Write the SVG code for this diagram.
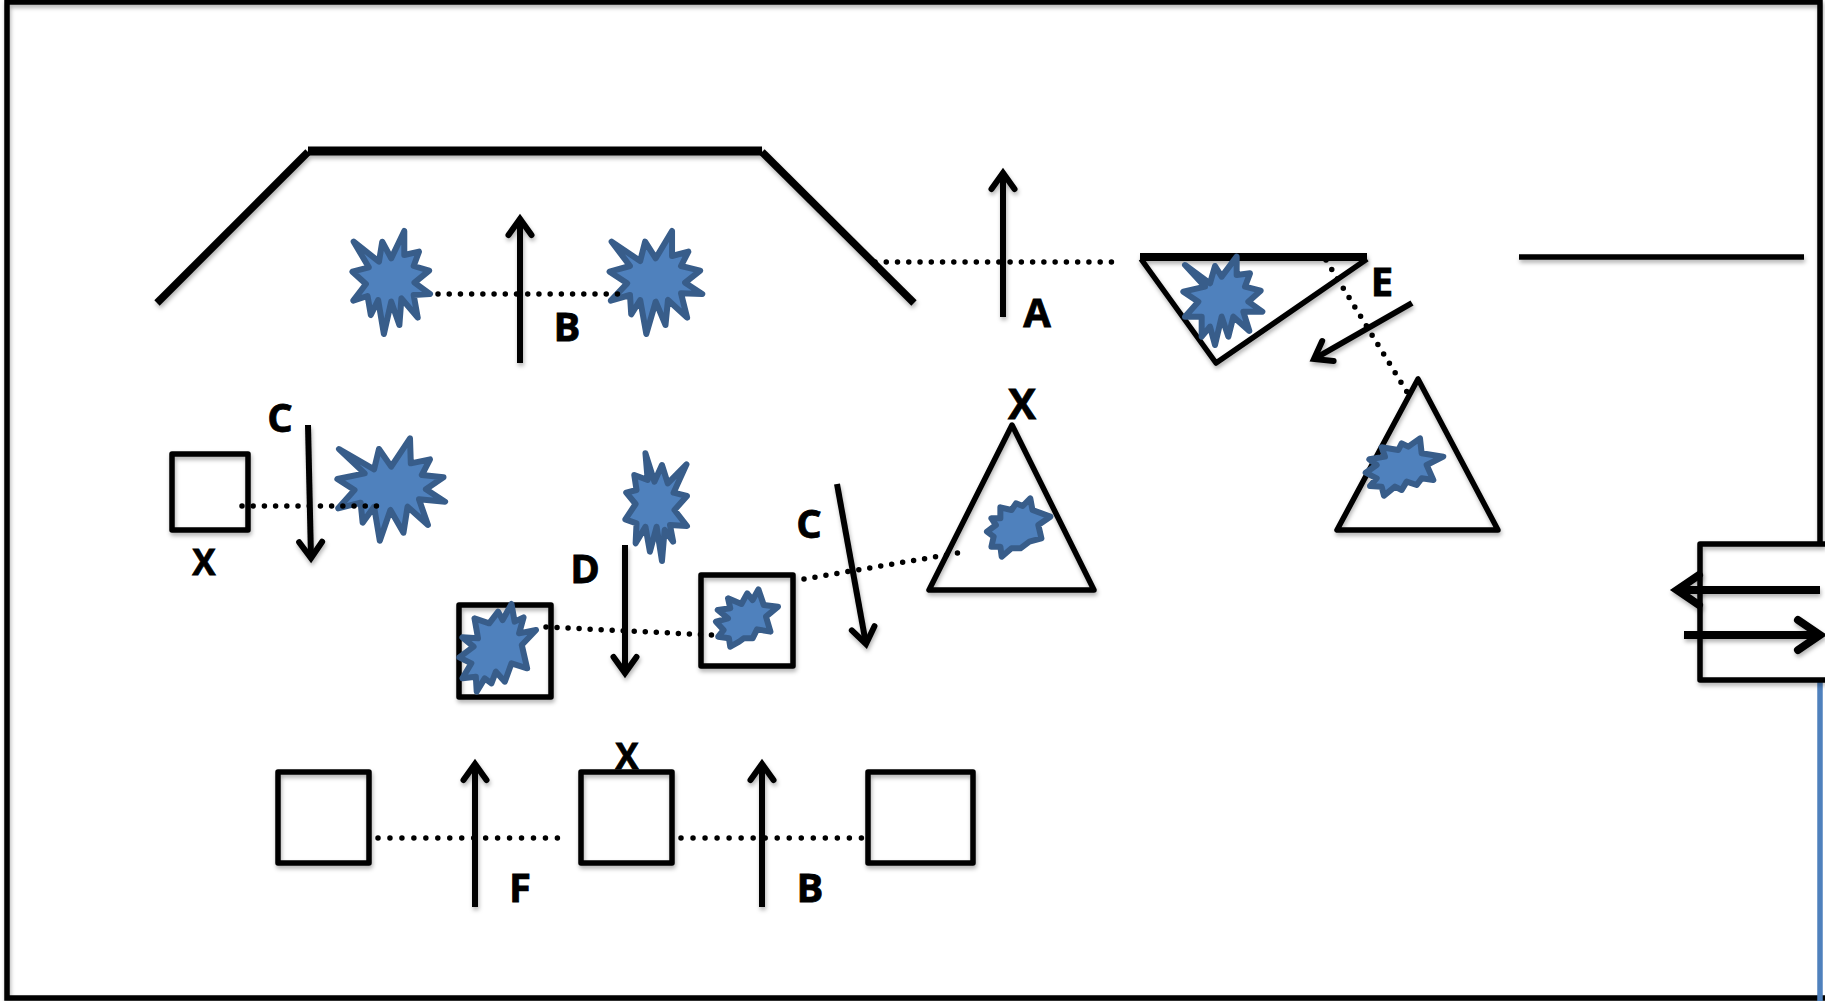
<svg xmlns="http://www.w3.org/2000/svg" width="1825" height="1001" viewBox="0 0 1825 1001">
<style>
.sh{filter:url(#sh)}
.box{fill:none;stroke:#000;stroke-width:5.500;stroke-linejoin:round}
.wall{fill:none;stroke:#000;stroke-width:7.500}
.thick{fill:none;stroke:#000;stroke-width:9}
.arrow{fill:none;stroke:#000;stroke-width:6;marker-end:url(#head)}
.big{fill:none;stroke:#000;stroke-width:8;marker-end:url(#headBig)}
.dot{fill:none;stroke:#000;stroke-width:5.500;stroke-linecap:round;stroke-dasharray:0 1}
.star{fill:#4f81bd;stroke:#385d8a;stroke-width:6;stroke-linejoin:round;vector-effect:non-scaling-stroke}
.lb{font-family:"Open Sans","Noto Sans",sans-serif;font-weight:700;font-size:40px;text-anchor:middle;fill:#000;stroke:#000;stroke-width:.8}
</style>
<defs>
<filter id="sh" filterUnits="userSpaceOnUse" x="0" y="0" width="1825" height="1001"><feDropShadow dx="1" dy="3" stdDeviation="2" flood-color="#000" flood-opacity=".3"/></filter>
<marker id="head" markerUnits="userSpaceOnUse" markerWidth="40" markerHeight="40" refX="30" refY="20" orient="auto" overflow="visible"><path d="M14 8.500L30 20L14 31.500" fill="none" stroke="#000" stroke-width="6" stroke-linecap="round"/></marker>
<marker id="headBig" markerUnits="userSpaceOnUse" markerWidth="60" markerHeight="60" refX="30" refY="30" orient="auto" overflow="visible"><path d="M8 15L30 30L8 45" fill="none" stroke="#000" stroke-width="8" stroke-linecap="round"/></marker>
</defs>
<rect width="1825" height="1001" fill="#fff"/>

<g id="frame">
<path class="wall sh" d="M1820 542V2H7V998H1825" style="stroke-width:5.500"/>
<path d="M1820 680V1001" fill="none" stroke="#4f81bd" stroke-width="5.500"/>
</g>

<g id="wall-top" class="sh">
<path class="wall" d="M157 303L308 152"/>
<path class="thick" d="M308 151H762"/>
<path class="wall" d="M762 152L914 303"/>
</g>
<g id="wall-right"><path class="box sh" d="M1519 257H1804"/></g>

<g id="labels">
<text class="lb" x="1037" y="327">A</text>
<text class="lb" x="567" y="341">B</text>
<text class="lb" x="280" y="432">C</text>
<text class="lb" x="204" y="575" style="font-size:35px">X</text>
<text class="lb" x="1022" y="419" style="font-size:42px">X</text>
<text class="lb" x="585" y="583">D</text>
<text class="lb" x="809" y="538">C</text>
<text class="lb" x="1382" y="296">E</text>
<text class="lb" x="627" y="769" style="font-size:35px">X</text>
<text class="lb" x="520" y="902">F</text>
<text class="lb" x="810" y="902">B</text>
</g>

<g id="node-square-left"><rect class="box sh" x="172" y="454" width="76" height="76"/></g>
<g id="node-square-e"><rect class="box sh" x="459" y="605" width="92" height="92"/></g>
<g id="node-square-f"><rect class="box sh" x="701" y="575" width="92" height="91"/></g>
<g id="node-square-b1"><rect class="box sh" x="278" y="772" width="91" height="91"/></g>
<g id="node-square-b2"><rect class="box sh" x="581" y="772" width="91" height="91"/></g>
<g id="node-square-b3"><rect class="box sh" x="868" y="772" width="105" height="91"/></g>

<g id="node-triangle-x"><path class="box sh" d="M1012 425L929 590H1094Z"/></g>
<g id="node-triangle-low"><path class="box sh" d="M1418 379L1337 530H1498Z"/></g>
<g id="node-triangle-inv">
<path class="box sh" d="M1141 259L1216 363L1367 259"/>
<path class="thick sh" d="M1140 257H1367" style="stroke-width:8"/>
</g>

<g id="node-port">
<path class="box sh" d="M1825 544H1700V680H1825"/>
</g>

<g id="stars-a" transform="translate(130 130) scale(.40816 .33333)">
<path id="star-1" class="star" d="M548 335L610 395L618 335L640 385L672 303L672 375L708 365L695 408L733 422L697 458L735 492L695 495L705 563L665 505L660 585L640 515L622 612L608 510L590 555L582 498L547 512L578 462L545 425L585 412Z"/>
<path id="star-2" class="star" d="M1180 335L1250 393L1262 335L1288 385L1328 303L1328 378L1368 365L1350 408L1397 422L1360 458L1402 492L1350 490L1365 563L1318 510L1312 585L1288 515L1265 612L1250 510L1228 553L1225 495L1178 512L1218 460L1175 425L1225 408Z"/>
<path id="star-3" class="star" d="M512 957L598 1018L610 957L640 1010L686 925L688 1000L735 988L715 1035L768 1042L725 1078L772 1115L708 1108L730 1185L680 1130L670 1208L638 1140L612 1232L598 1130L570 1178L565 1118L510 1135L550 1080L508 1047L575 1030Z"/>
</g>
<g id="stars-b" transform="translate(420 430) scale(.44643 .33333)">
<path id="star-4" class="star" d="M505 70L525 155L542 105L555 160L597 103L568 188L598 198L570 240L598 288L560 285L567 335L548 300L542 393L530 290L515 365L505 290L483 340L485 280L460 268L483 222L462 188L485 180L480 135L510 150Z"/>
<path id="star-5" class="star" d="M205 522L212 575L232 562L222 610L260 600L228 645L240 715L205 700L190 755L170 725L160 760L145 745L127 785L125 740L95 745L115 700L88 682L120 650L95 622L130 625L122 565L155 580L175 545L185 570Z"/>
<path id="star-6" class="star" d="M758 478L770 525L802 530L775 560L785 605L755 598L745 625L725 625L715 635L695 650L692 625L668 620L680 600L663 575L690 565L667 540L695 535L690 505L720 522L733 490L745 510Z"/>
<path id="star-7" class="star" d="M1367 205L1372 240L1412 260L1385 285L1392 325L1365 335L1345 355L1325 355L1303 380L1300 350L1280 350L1285 320L1270 305L1290 285L1280 265L1300 265L1300 232L1325 240L1335 220L1350 228Z"/>
</g>
<g id="stars-c" transform="translate(1100 230) scale(.33333)">
<path id="star-8" class="star" d="M255 105L330 160L345 108L365 140L410 80L410 135L450 130L435 170L482 182L445 215L487 245L430 245L448 303L400 260L385 320L365 260L345 345L330 290L305 320L305 260L255 260L295 215L250 185L315 170Z"/>
<path id="star-9" class="star" d="M960 625L965 670L1030 680L980 705L1000 750L965 745L950 765L920 755L905 780L885 770L852 797L845 770L810 768L830 745L797 728L830 705L808 688L855 680L845 652L895 660L905 640L925 650Z"/>
</g>

<g id="connectors">
<g id="dotted">
<path class="dot" pathLength="16.05" d="M438 294H618"/>
<path class="dot" pathLength="21.05" d="M875 262H1112"/>
<path class="dot" pathLength="12.05" d="M242 506H377"/>
<path class="dot" pathLength="15.05" d="M546 627L712 635"/>
<path class="dot" pathLength="14.05" d="M804 579L958 553"/>
<path class="dot" pathLength="14.05" d="M1326 260L1407 392"/>
<path class="dot" pathLength="15.05" d="M378 838H558"/>
<path class="dot" pathLength="15.05" d="M681 838H862"/>
</g>
<g id="arrows" class="sh">
<path class="arrow" d="M520 363V219"/>
<path class="arrow" d="M1003 317V173"/>
<path class="arrow" d="M308 425L311 558"/>
<path class="arrow" d="M625 545V673"/>
<path class="arrow" d="M837 484L866 644"/>
<path class="arrow" d="M1412 303L1314 359"/>
<path class="arrow" d="M475 907V764"/>
<path class="arrow" d="M762 907V764"/>
<path class="big" d="M1820 590H1677"/>
<path class="big" d="M1684 635H1820"/>
</g>
</g>
</svg>
